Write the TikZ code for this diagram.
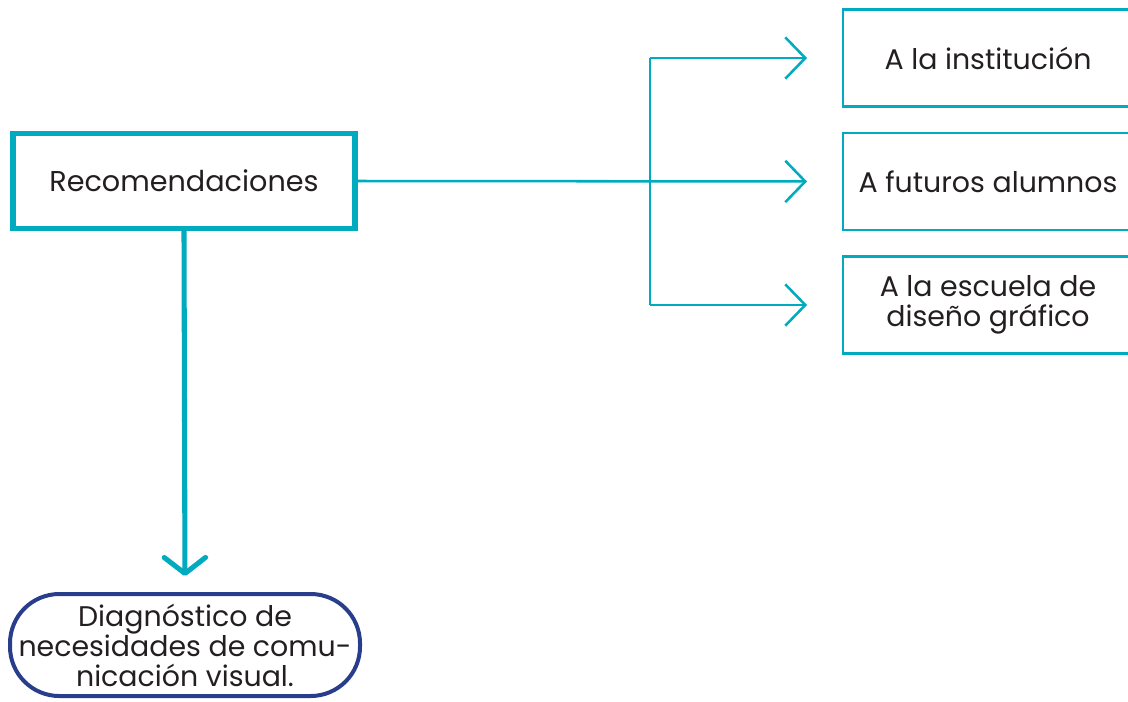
\documentclass[tikz,border=0pt]{standalone}
\usepackage{fontspec}
\setmainfont{Poppins}
\usetikzlibrary{arrows.meta}
\definecolor{teal}{RGB}{0,171,191}
\definecolor{navy}{RGB}{40,62,140}
\definecolor{ink}{RGB}{35,31,32}
\tikzset{
  thinbox/.style={draw=teal, line width=1.9pt, minimum width=217.5pt, minimum height=72.5pt, inner sep=0pt, align=center, text=ink, font=\fontsize{21.3}{22.5}\selectfont},
  mainbox/.style={draw=teal, line width=3.9pt, minimum width=256.5pt, minimum height=71pt, inner sep=0pt, text=ink, font=\fontsize{21.5}{23}\selectfont},
  pill/.style={draw=navy, line width=3pt, minimum width=262.5pt, minimum height=76.5pt, rounded corners=37pt, inner sep=0pt, align=center, text=ink, font=\fontsize{21.3}{22.5}\selectfont},
  thinarr/.style={draw=teal, line width=1.9pt, -{Straight Barb[length=15pt, width=31pt]}},
  thickarr/.style={draw=teal, line width=3.8pt, line cap=round, -{Straight Barb[length=12pt, width=31pt, round]}},
}
\begin{document}
\begin{tikzpicture}[x=0.75pt,y=-0.75pt]
\useasboundingbox (0,0) rectangle (1128,701);
\node[mainbox] (rec) at (184,181) {Recomendaciones};
\node[thinbox] (inst) at (988,58) {A la institución};
\node[thinbox] (fut) at (988,181.5) {A futuros alumnos};
\node[thinbox] (esc) at (988,305) {A la escuela de\\diseño gráfico};
\node[pill] (diag) at (185,645) {Diagnóstico de\\necesidades de comu-\\nicación visual.};
\coordinate (bus) at (650,181.5);
\draw[thinarr, shorten >=26pt] (rec.east) -- (fut.west);
\draw[teal, line width=1.9pt] (bus |- inst.west) -- (bus |- esc.west);
\draw[thinarr, shorten >=26pt] (bus |- inst.west) -- (inst.west);
\draw[thinarr, shorten >=26pt] (bus |- esc.west) -- (esc.west);
\draw[thickarr, shorten >=12pt] (rec.south) -- (diag.north);
\end{tikzpicture}
\end{document}
